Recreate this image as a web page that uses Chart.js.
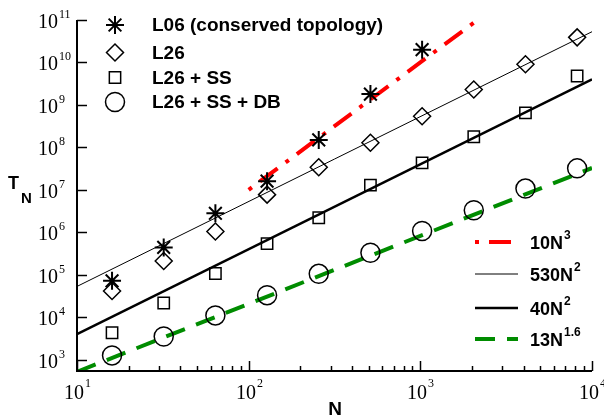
<!DOCTYPE html>
<html>
<head>
<meta charset="utf-8">
<script src="https://cdn.jsdelivr.net/npm/chart.js@4.4.0/dist/chart.umd.min.js"></script>
<style>
html, body { margin: 0; padding: 0; background: #fff; }
canvas { display: block; }
</style>
</head>
<body>
<canvas id="myChart" width="604" height="420"></canvas>
<script>
// system sizes N and measured times T_N
var nValues = [16, 32, 64, 128, 256, 512, 1024, 2048, 4096, 8192];
var l06Values = [7.2e4, 4.4e5, 2.8e6, 1.6e7, 1.5e8, 1.8e9, 2.0e10];
var l26Values = [4.15e4, 2.1e5, 1.04e6, 7.7e6, 3.4e7, 1.28e8, 5.4e8, 2.3e9, 9.1e9, 3.9e10];
var l26ssValues = [4.3e3, 2.16e4, 1.07e5, 5.4e5, 2.2e6, 1.29e7, 4.3e7, 1.78e8, 6.5e8, 4.8e9];
var l26ssdbValues = [1.26e3, 3.5e3, 1.1e4, 3.3e4, 1.05e5, 3.3e5, 1.07e6, 3.3e6, 1.07e7, 3.2e7];

// fitted power laws (end points)
var fit10N3N = [100, 2048];
var fit10N3T = [1e7, 8.6e10];
var fitN = [10, 10000];
var fit530N2T = [5.3e4, 5.3e10];
var fit40N2T = [4e3, 4e9];
var fit13N16T = [517, 3.27e7];

// tick labels (powers of ten)
var xTickExps = [1, 2, 3, 4];
var yTickExps = [3, 4, 5, 6, 7, 8, 9, 10, 11];

var markerLabels = ['L06 (conserved topology)', 'L26', 'L26 + SS', 'L26 + SS + DB'];
var fitLabelBase = ['10N', '530N', '40N', '13N'];
var fitLabelExp = ['3', '2', '2', '1.6'];

function pts(xs, ys) {
    return ys.map(function (y, i) { return { x: xs[i], y: y }; });
}

var serif = '"Liberation Serif", "Times New Roman", serif';
var sans = '"Liberation Sans", Arial, sans-serif';
var clear = 'rgba(0,0,0,0)';

function sup(ctx, base, exp, x, y, baseFont, expFont, align, expRise) {
    ctx.font = baseFont;
    var wb = ctx.measureText(base).width;
    ctx.font = expFont;
    var we = ctx.measureText(exp).width;
    var gap = 1;
    var left = x;
    if (align === 'center') left = x - (wb + gap + we) / 2;
    if (align === 'right') left = x - wb;
    ctx.textAlign = 'left';
    ctx.textBaseline = 'alphabetic';
    ctx.font = baseFont;
    ctx.fillText(base, left, y);
    ctx.font = expFont;
    ctx.fillText(exp, left + wb + gap, y - expRise);
}

var axesPlugin = {
    id: 'axesPlugin',
    afterDatasetsDraw: function (chart) {
        var ctx = chart.ctx;
        var xs = chart.scales.x, ys = chart.scales.y;
        var a = chart.chartArea;
        ctx.save();
        ctx.strokeStyle = '#000';
        ctx.fillStyle = '#000';
        ctx.setLineDash([]);

        // axis lines
        ctx.lineWidth = 2;
        ctx.beginPath();
        ctx.moveTo(a.left, a.top);
        ctx.lineTo(a.left, a.bottom);
        ctx.lineTo(a.right, a.bottom);
        ctx.stroke();

        // y ticks
        ctx.lineWidth = 1.5;
        yTickExps.forEach(function (e) {
            var py = Math.round(ys.getPixelForValue(Math.pow(10, e))) + 0.5;
            ctx.beginPath();
            ctx.moveTo(a.left, py);
            ctx.lineTo(a.left + 10, py);
            ctx.stroke();
            sup(ctx, '10', String(e), 58, py + 7, '20px ' + serif, '12px ' + serif, 'right', 10);
        });

        // x ticks
        xTickExps.forEach(function (e, i) {
            var px = Math.round(xs.getPixelForValue(Math.pow(10, e))) + 0.5;
            ctx.beginPath();
            ctx.moveTo(px, a.bottom);
            ctx.lineTo(px, a.bottom - 10);
            ctx.stroke();
            sup(ctx, '10', String(e), px, 399, '20px ' + serif, '12px ' + serif, 'center', 12);
            if (i < xTickExps.length - 1) {
                for (var m = 2; m <= 9; m++) {
                    var mx = Math.round(xs.getPixelForValue(m * Math.pow(10, e))) + 0.5;
                    ctx.beginPath();
                    ctx.moveTo(mx, a.bottom);
                    ctx.lineTo(mx, a.bottom - 5);
                    ctx.stroke();
                }
            }
        });

        // axis titles
        ctx.font = 'bold 19px ' + sans;
        ctx.textAlign = 'center';
        ctx.textBaseline = 'alphabetic';
        ctx.fillText('N', 335, 415);
        ctx.textAlign = 'left';
        ctx.font = 'bold 18px ' + sans;
        ctx.fillText('T', 8, 189);
        ctx.font = 'bold 15px ' + sans;
        ctx.fillText('N', 21, 203);

        // marker legend (top left)
        var rowsL = [25, 52.5, 77.5, 102];
        for (var d = 0; d < 4; d++) {
            var ds = chart.data.datasets[d];
            ctx.strokeStyle = '#000';
            ctx.fillStyle = clear;
            ctx.lineWidth = ds.pointBorderWidth;
            Chart.helpers.drawPoint(ctx, {
                pointStyle: ds.pointStyle, radius: ds.pointRadius,
                borderWidth: ds.pointBorderWidth, rotation: 0
            }, 115, rowsL[d]);
            ctx.fillStyle = '#000';
            ctx.font = 'bold 19px ' + sans;
            ctx.textAlign = 'left';
            ctx.textBaseline = 'middle';
            ctx.fillText(ds.label, 152, rowsL[d] + 1);
        }

        // fit legend (lower right)
        var rowsR = [242, 274, 308, 339];
        for (var f = 0; f < 4; f++) {
            var fs = chart.data.datasets[4 + f];
            ctx.strokeStyle = fs.borderColor;
            ctx.lineWidth = fs.borderWidth;
            ctx.setLineDash(fs.borderDash || []);
            ctx.beginPath();
            ctx.moveTo(475, rowsR[f]);
            ctx.lineTo(518, rowsR[f]);
            ctx.stroke();
            ctx.setLineDash([]);
            ctx.fillStyle = '#000';
            sup(ctx, fitLabelBase[f], fitLabelExp[f], 530, rowsR[f] + 7,
                'bold 18px ' + sans, 'bold 12px ' + sans, 'left', 10);
        }
        ctx.restore();
    }
};

var ctx = document.getElementById('myChart').getContext('2d');
var myChart = new Chart(ctx, {
    type: 'scatter',
    data: {
        datasets: [
            {
                label: markerLabels[0], data: pts(nValues, l06Values),
                pointStyle: 'star', pointRadius: 9, pointBorderWidth: 2,
                pointBorderColor: '#000', pointBackgroundColor: clear
            },
            {
                label: markerLabels[1], data: pts(nValues, l26Values),
                pointStyle: 'rectRot', pointRadius: 8.5, pointBorderWidth: 1.5,
                pointBorderColor: '#000', pointBackgroundColor: clear
            },
            {
                label: markerLabels[2], data: pts(nValues, l26ssValues),
                pointStyle: 'rect', pointRadius: 8, pointBorderWidth: 1.5,
                pointBorderColor: '#000', pointBackgroundColor: clear
            },
            {
                label: markerLabels[3], data: pts(nValues, l26ssdbValues),
                pointStyle: 'circle', pointRadius: 9.5, pointBorderWidth: 1.5,
                pointBorderColor: '#000', pointBackgroundColor: clear
            },
            {
                label: '10N^3', data: pts(fit10N3N, fit10N3T), showLine: true,
                borderColor: '#ff0000', borderWidth: 4, borderDash: [4, 10, 22, 10],
                pointRadius: 0
            },
            {
                label: '530N^2', data: pts(fitN, fit530N2T), showLine: true,
                borderColor: '#000', borderWidth: 1, pointRadius: 0
            },
            {
                label: '40N^2', data: pts(fitN, fit40N2T), showLine: true,
                borderColor: '#000', borderWidth: 2.5, pointRadius: 0
            },
            {
                label: '13N^1.6', data: pts(fitN, fit13N16T), showLine: true,
                borderColor: '#008c00', borderWidth: 4, borderDash: [20, 12],
                pointRadius: 0
            }
        ]
    },
    options: {
        responsive: false,
        animation: false,
        layout: { padding: { left: 77, right: 12, top: 20, bottom: 49 } },
        plugins: { legend: { display: false }, tooltip: { enabled: false } },
        scales: {
            x: { type: 'logarithmic', min: 10, max: 10000, display: false },
            y: { type: 'logarithmic', min: 540, max: 1e11, display: false }
        }
    },
    plugins: [axesPlugin]
});
</script>
</body>
</html>
